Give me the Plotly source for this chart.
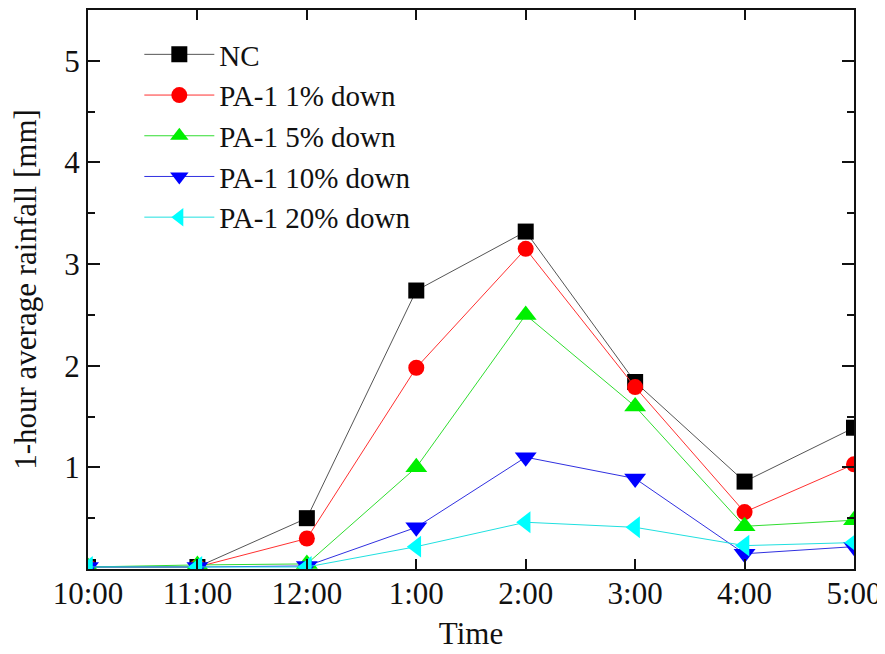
import plotly.graph_objects as go

times = ["10:00", "11:00", "12:00", "1:00", "2:00", "3:00", "4:00", "5:00"]
nc = [0.02, 0.02, 0.50, 2.74, 3.32, 1.84, 0.86, 1.39]
pa_1 = [0.02, 0.02, 0.30, 1.98, 3.15, 1.79, 0.56, 1.03]
pa_5 = [0.02, 0.04, 0.05, 1.00, 2.50, 1.60, 0.42, 0.48]
pa_10 = [0.02, 0.02, 0.03, 0.41, 1.10, 0.89, 0.15, 0.22]
pa_20 = [0.02, 0.02, 0.02, 0.22, 0.46, 0.41, 0.23, 0.26]

series = [
    ("NC", nc, "#000000", "#555555", "square"),
    ("PA-1 1% down", pa_1, "#FF0000", "#FF3030", "circle"),
    ("PA-1 5% down", pa_5, "#00F000", "#30DD30", "triangle-up"),
    ("PA-1 10% down", pa_10, "#0000FF", "#3030E0", "triangle-down"),
    ("PA-1 20% down", pa_20, "#00FFFF", "#20E0E0", "triangle-left"),
]

xpos = list(range(len(times)))
fig = go.Figure()
for name, vals, mcol, lcol, sym in series:
    fig.add_trace(go.Scatter(
        x=xpos, y=vals, name=name, mode="lines+markers",
        line=dict(color=lcol, width=1),
        marker=dict(symbol=sym, size=16 if sym in ("square", "circle") else 19,
                    color=mcol, line=dict(width=0)),
        cliponaxis=True,
    ))

font = "Liberation Serif, Times New Roman, serif"
fig.update_layout(
    width=877, height=646,
    margin=dict(l=80, r=31, t=0, b=85),
    paper_bgcolor="white", plot_bgcolor="white",
    font=dict(family=font, size=31, color="#111111"),
    showlegend=True,
    legend=dict(x=0.067, y=0.966, xanchor="left", yanchor="top",
                bgcolor="rgba(0,0,0,0)", font=dict(size=29, family=font),
                itemwidth=70, tracegroupgap=0),
    xaxis=dict(
        range=[0, 7], tickmode="array", tickvals=xpos, ticktext=times,
        ticks="inside", ticklen=10, tickwidth=1.5, tickcolor="#111",
        showline=True, linewidth=2, linecolor="#111", mirror="ticks",
        showgrid=False, zeroline=False, ticklabelstandoff=-4,
        title=dict(text="Time", font=dict(size=31), standoff=12),
        tickfont=dict(size=31),
    ),
    yaxis=dict(
        range=[0, 5.5], tickvals=[1, 2, 3, 4, 5],
        ticks="inside", ticklen=12, tickwidth=1.5, tickcolor="#111",
        minor=dict(tickvals=[0.5, 1.5, 2.5, 3.5, 4.5], ticks="inside", ticklen=7,
                   tickwidth=1.5, tickcolor="#111", showgrid=False),
        showline=True, linewidth=2, linecolor="#111", mirror="ticks",
        showgrid=False, zeroline=False,
        title=dict(text="1-hour average rainfall [mm]", font=dict(size=31), standoff=18),
        tickfont=dict(size=31),
    ),
)

fig.write_html("out.html")
